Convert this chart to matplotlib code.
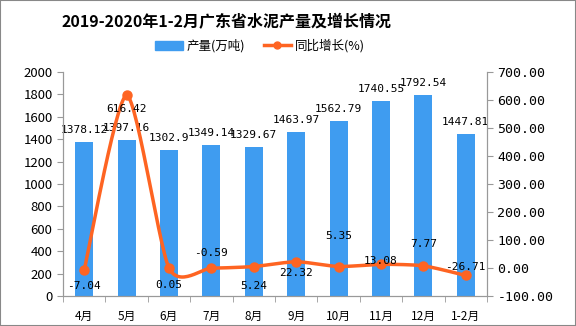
import numpy as np
import matplotlib
matplotlib.use("Agg")
import matplotlib.pyplot as plt
from matplotlib.lines import Line2D
from matplotlib.patches import Patch, Rectangle

plt.rcParams['font.family'] = ['Noto Sans CJK SC', 'DejaVu Sans']

categories = ["4月", "5月", "6月", "7月", "8月", "9月", "10月", "11月", "12月", "1-2月"]
output = [1378.12, 1397.16, 1302.9, 1349.14, 1329.67, 1463.97, 1562.79, 1740.55, 1792.54, 1447.81]
output_labels = ["1378.12", "1397.16", "1302.9", "1349.14", "1329.67", "1463.97", "1562.79", "1740.55", "1792.54", "1447.81"]
growth = [-7.04, 616.42, 0.05, -0.59, 5.24, 22.32, 5.35, 13.08, 7.77, -26.71]
growth_labels = ["-7.04", "616.42", "0.05", "-0.59", "5.24", "22.32", "5.35", "13.08", "7.77", "-26.71"]
# label pixel offsets (style)
growth_offsets = [-16, -14, -17, 15, -19, -11, 31, 3, 22, 8]

W, H = 576, 326
fig = plt.figure(figsize=(W/100, H/100), dpi=100)
ax = fig.add_axes([63/W, 30/H, (487-63)/W, (296-72)/H])
ax2 = ax.twinx()

x = np.arange(len(categories))
bar_color = "#3f9cf0"
line_color = "#fe6422"
ax.bar(x, output, width=0.42, color=bar_color, zorder=2)
ax.set_xlim(-0.5, len(categories)-0.5)
ax.set_ylim(0, 2000)
ax.set_yticks(np.arange(0, 2001, 200))
for xi, v, lab in zip(x, output, output_labels):
    ax.annotate(lab, (xi, v), xytext=(0, 12), textcoords='offset pixels',
                ha='center', va='center', fontsize=8, family='DejaVu Sans Mono')

# smooth curve (cardinal spline through the data points)
def cardinal(xs, ys, n=30, k=0.35):
    px = np.concatenate([[xs[0]], xs, [xs[-1]]])
    py = np.concatenate([[ys[0]], ys, [ys[-1]]])
    ox, oy = [], []
    t = np.linspace(0, 1, n)
    h00 = 2*t**3 - 3*t**2 + 1
    h10 = t**3 - 2*t**2 + t
    h01 = -2*t**3 + 3*t**2
    h11 = t**3 - t**2
    for i in range(1, len(px)-2):
        for arr, out in ((px, ox), (py, oy)):
            p0, p1, p2, p3 = arr[i-1], arr[i], arr[i+1], arr[i+2]
            m1 = k*(p2-p0)
            m2 = k*(p3-p1)
            out.extend(h00*p1 + h10*m1 + h01*p2 + h11*m2)
    return np.array(ox), np.array(oy)

gx, gy = cardinal(x.astype(float), np.array(growth, float))
ax2.plot(gx, gy, color=line_color, lw=2.5, zorder=3)
ax2.plot(x, growth, 'o', color=line_color, ms=6.5, zorder=4)
ax2.set_ylim(-100, 700)
ax2.set_yticks(np.arange(-100, 701, 100))
ax2.set_yticklabels([f"{v:.2f}" for v in np.arange(-100, 701, 100)], family='DejaVu Sans Mono')
for xi, v, lab, off in zip(x, growth, growth_labels, growth_offsets):
    ax2.annotate(lab, (xi, v), xytext=(0, off), textcoords='offset pixels',
                 ha='center', va='center', fontsize=8, family='DejaVu Sans Mono', zorder=5)

ax.set_xticks(x)
ax.set_xticklabels(categories, fontsize=8.5)
ax.set_xticks(np.arange(-0.5, len(categories), 1), minor=True)
ax.tick_params(axis='x', which='major', length=0, pad=10)
ax.tick_params(axis='x', which='minor', length=4, color='#999999')
ax.tick_params(axis='y', labelsize=9.5, length=4, color='#999999')
ax2.tick_params(axis='y', labelsize=9.5, length=4, color='#999999')
for a in (ax, ax2):
    a.spines['top'].set_visible(False)
    for s in ('left', 'right', 'bottom'):
        a.spines[s].set_color('#999999')

fig.text(226/W, 1-22/H, "2019-2020年1-2月广东省水泥产量及增长情况", ha='center', va='center',
         fontsize=11.5, fontweight='bold')
handles = [Patch(color=bar_color), Line2D([0], [0], color=line_color, lw=2.5, marker='o', ms=5)]
fig.legend(handles, ["产量(万吨)", "同比增长(%)"], loc='center', bbox_to_anchor=(260/W, 1-46/H),
           ncol=2, frameon=False, fontsize=9, handlelength=2.2, columnspacing=1.5, handletextpad=0.3)

fig.patches.append(Rectangle((0, 0), 1, 1, transform=fig.transFigure, fill=False,
                             edgecolor='#888888', lw=1.5))
fig.savefig("out.png", dpi=100)
